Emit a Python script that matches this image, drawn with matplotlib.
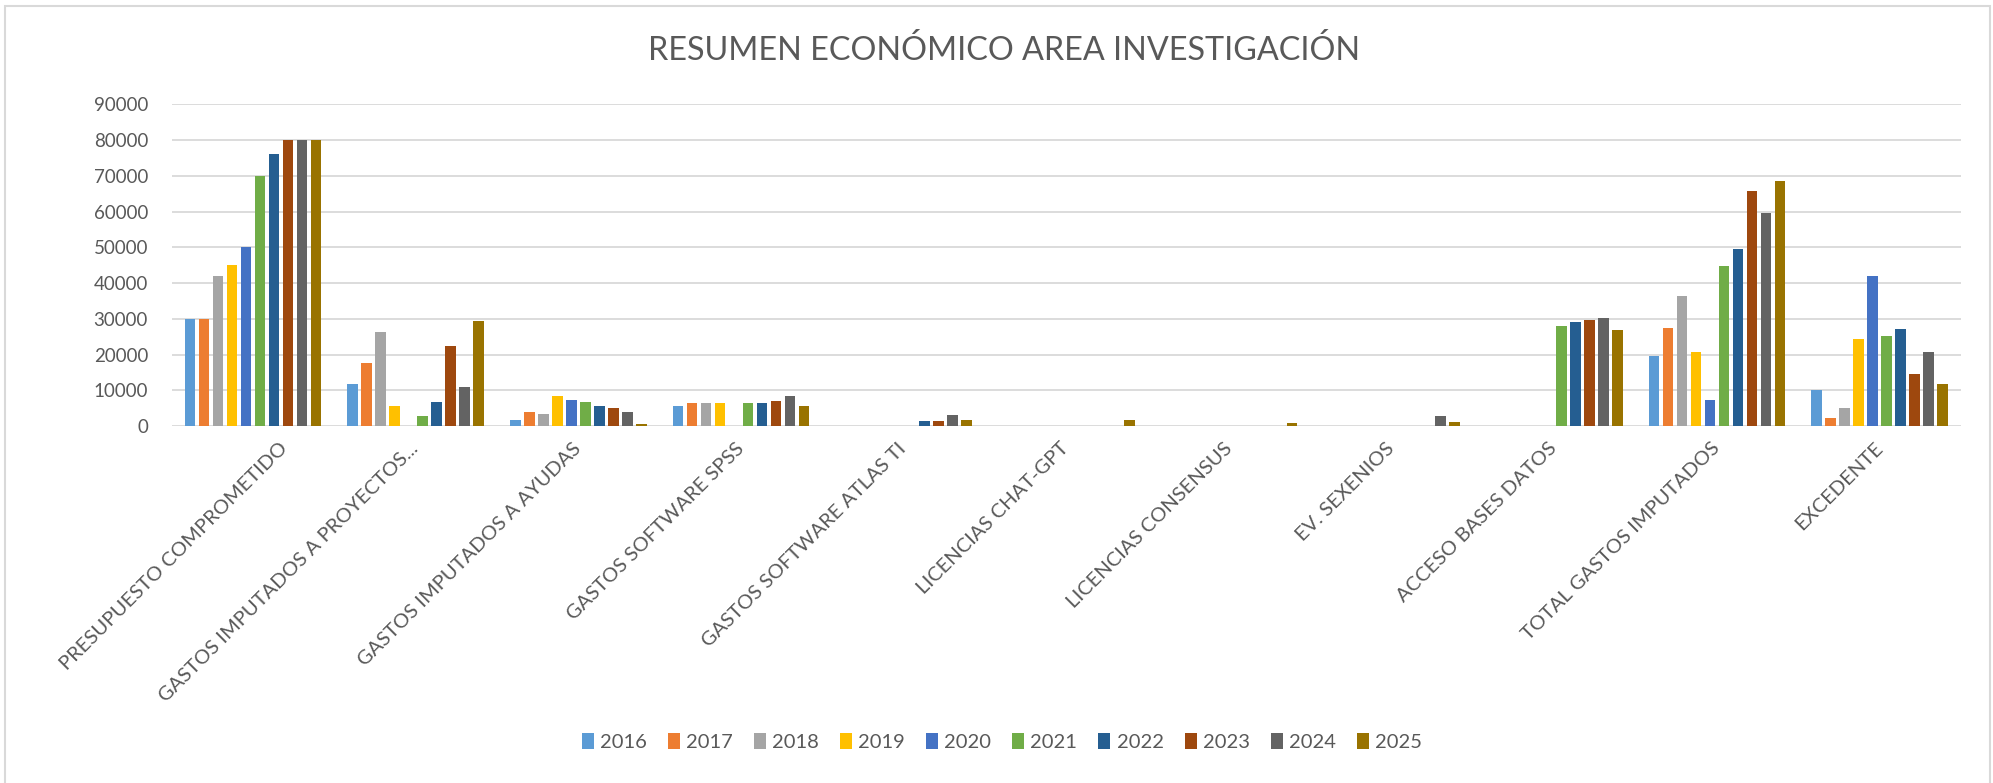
# -*- coding: utf-8 -*-
"""Resumen económico área investigación: grouped bars per concept and year."""

import matplotlib
matplotlib.use("Agg")
import matplotlib.pyplot as plt
import matplotlib.patches as mpatches
import matplotlib.transforms as mtransforms
import numpy as np

# ── Data ──────────────────────────────────────────────────────────────────────
CATEGORIES = [
    "PRESUPUESTO COMPROMETIDO",
    "GASTOS IMPUTADOS A PROYECTOS...",
    "GASTOS IMPUTADOS A AYUDAS",
    "GASTOS SOFTWARE SPSS",
    "GASTOS SOFTWARE ATLAS TI",
    "LICENCIAS CHAT-GPT",
    "LICENCIAS CONSENSUS",
    "EV. SEXENIOS",
    "ACCESO BASES DATOS",
    "TOTAL GASTOS IMPUTADOS",
    "EXCEDENTE",
]
YEARS = ["2016", "2017", "2018", "2019", "2020", "2021", "2022", "2023", "2024", "2025"]

Y2016 = [30000, 11800, 1700, 5700, 0, 0, 0, 0, 0, 19600, 10000]
Y2017 = [30000, 17500, 3900, 6300, 0, 0, 0, 0, 0, 27400, 2200]
Y2018 = [42000, 26400, 3400, 6300, 0, 0, 0, 0, 0, 36400, 5100]
Y2019 = [45000, 5600, 8400, 6300, 0, 0, 0, 0, 0, 20700, 24200]
Y2020 = [50000, 0, 7400, 0, 0, 0, 0, 0, 0, 7200, 42100]
Y2021 = [70000, 2800, 6700, 6300, 0, 0, 0, 0, 28000, 44900, 25300]
Y2022 = [76200, 6700, 5600, 6300, 1300, 0, 0, 0, 29200, 49400, 27000]
Y2023 = [80000, 22500, 5100, 6900, 1300, 0, 0, 0, 29700, 65700, 14600]
Y2024 = [80000, 10800, 3900, 8500, 3000, 0, 0, 2900, 30300, 59700, 20700]
Y2025 = [80000, 29300, 600, 5700, 1800, 1800, 700, 1200, 26900, 68500, 11800]

SERIES = [Y2016, Y2017, Y2018, Y2019, Y2020, Y2021, Y2022, Y2023, Y2024, Y2025]

Y_TICKS = list(range(0, 90001, 10000))

# ── Style ─────────────────────────────────────────────────────────────────────
COLORS = [
    "#5B9BD5", "#ED7D31", "#A5A5A5", "#FFC000", "#4472C4",
    "#70AD47", "#255E91", "#9E480E", "#636363", "#997300",
]
TEXT = "#595959"
GRID = "#D9D9D9"

plt.rcParams.update({
    "font.family": ["Lato", "DejaVu Sans"],
    "font.size": 13,
    "text.color": TEXT,
    "xtick.color": TEXT,
    "ytick.color": TEXT,
})

W_PX, H_PX = 1993, 783
fig = plt.figure(figsize=(W_PX / 100, H_PX / 100), dpi=100)

# plot area measured in pixels on the reference
left, right, top, base = 171.7, 1961.0, 104.3, 426.0
ax = fig.add_axes([left / W_PX, 1 - base / H_PX, (right - left) / W_PX, (base - top) / H_PX])

x = np.arange(len(CATEGORIES))
slot = 0.086
bar_w = 0.066
for i, (year, vals, color) in enumerate(zip(YEARS, SERIES, COLORS)):
    ax.bar(x + (i - 4.5) * slot, vals, bar_w, color=color, label=year,
           edgecolor="none", zorder=3)

ax.set_xlim(-0.5, len(CATEGORIES) - 0.5)
ax.set_ylim(0, 90000)
ax.set_yticks(Y_TICKS)
ax.set_yticklabels([str(v) for v in Y_TICKS], fontsize=13.5)
ax.tick_params(axis="y", length=0, pad=17)
ax.tick_params(axis="x", length=0, pad=14)
ax.yaxis.grid(True, color=GRID, linewidth=1.3, zorder=0)
for side in ("top", "right", "left", "bottom"):
    ax.spines[side].set_visible(False)

ax.set_xticks(x)
ax.set_xticklabels(CATEGORIES, rotation=45, ha="right", va="center",
                   rotation_mode="anchor", fontsize=14.5)
# first label gets pushed right to stay inside the chart area
shift = mtransforms.ScaledTranslation(32 / 100, 0, fig.dpi_scale_trans)
lbl0 = ax.get_xticklabels()[0]
lbl0.set_transform(lbl0.get_transform() + shift)

fig.text(1004 / W_PX, 1 - 51 / H_PX, "RESUMEN ECONÓMICO AREA INVESTIGACIÓN",
         ha="center", va="center", fontsize=23.3, color=TEXT)

fig.legend(*ax.get_legend_handles_labels(), loc="center", ncol=10,
           bbox_to_anchor=(1002 / W_PX, 1 - 742 / H_PX), frameon=False,
           handlelength=0.6, handleheight=0.8, handletextpad=0.3,
           columnspacing=1.05, fontsize=14.5)

# light chart border
fig.patches.append(mpatches.Rectangle(
    (5 / W_PX, -0.01), (1990 - 5) / W_PX, 1.01 - 6 / H_PX,
    transform=fig.transFigure, fill=False, edgecolor=GRID, linewidth=1.5))

fig.savefig("out.png", dpi=100)
